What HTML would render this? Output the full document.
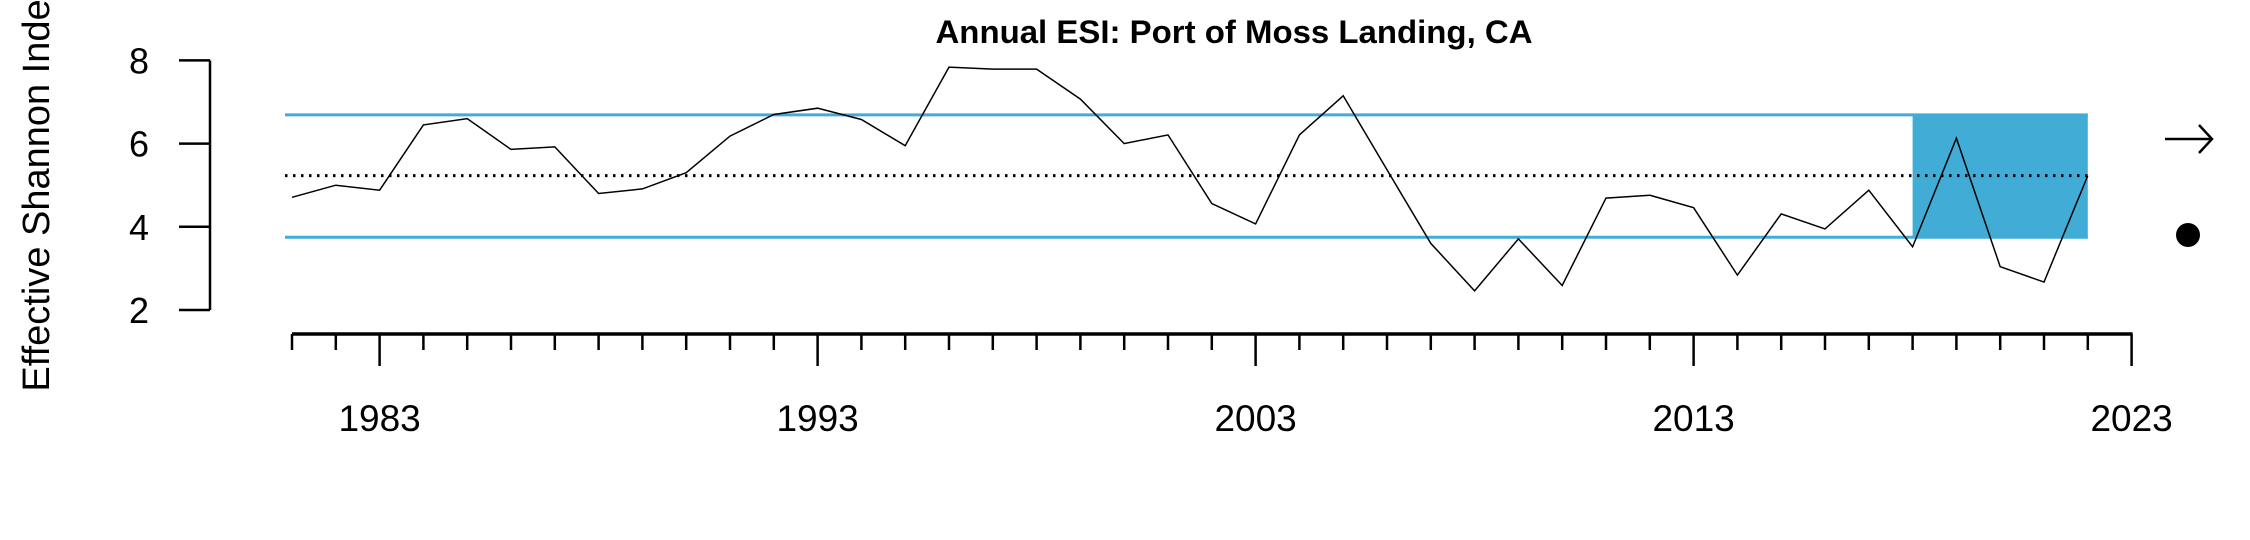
<!DOCTYPE html>
<html><head><meta charset="utf-8"><style>html,body{margin:0;padding:0;background:#fff}svg{display:block}text{font-family:"Liberation Sans",Arial,sans-serif}</style></head>
<body>
<svg id="chart" width="2250" height="540" viewBox="0 0 2250 540" xmlns="http://www.w3.org/2000/svg">
<rect width="2250" height="540" fill="#fff"/>
<text x="1234" y="43" text-anchor="middle" font-size="32" font-weight="bold" textLength="597" lengthAdjust="spacingAndGlyphs">Annual ESI: Port of Moss Landing, CA</text>
<text transform="translate(49,186) rotate(-90)" text-anchor="middle" font-size="38">Effective Shannon Index</text>
<g id="plot"></g>
<g stroke="#000" stroke-width="2.5" fill="none">
<line x1="2165" y1="139" x2="2211" y2="139"/>
<polyline points="2199,125 2212,139 2199,153"/>
</g>
<circle cx="2188" cy="235" r="12" fill="#000"/>
</svg>
<script>
const years = [1981,1982,1983,1984,1985,1986,1987,1988,1989,1990,1991,1992,1993,1994,1995,1996,1997,1998,1999,2000,2001,2002,2003,2004,2005,2006,2007,2008,2009,2010,2011,2012,2013,2014,2015,2016,2017,2018,2019,2020,2021,2022];
const esiValues = [4.71,5.00,4.88,6.45,6.60,5.86,5.92,4.80,4.91,5.30,6.18,6.70,6.85,6.58,5.95,7.84,7.79,7.79,7.07,6.00,6.21,4.56,4.07,6.21,7.15,5.37,3.60,2.46,3.71,2.59,4.69,4.76,4.46,2.84,4.31,3.95,4.88,3.52,6.13,3.04,2.67,5.23];
const yTicks = [2,4,6,8];
const xLabels = [1983,1993,2003,2013,2023];
const meanValue = [5.23];
const bandValues = [3.75, 6.69];
const recentYears = [2018, 2022];

const NS = "http://www.w3.org/2000/svg";
const plot = document.getElementById('plot');
const X = yr => 292 + (yr - 1981) * 43.8;
const Y = v => 310 - (v - 2) * 41.6;
function mk(tag, attrs, parent) {
  const e = document.createElementNS(NS, tag);
  for (const k in attrs) e.setAttribute(k, attrs[k]);
  (parent || plot).appendChild(e);
  return e;
}
let r = mk('rect', {x: X(recentYears[0]), y: Y(bandValues[1]), width: X(recentYears[1]) - X(recentYears[0]), height: Y(bandValues[0]) - Y(bandValues[1]), fill: '#41acd6'});


bandValues.forEach((v, i) => {
  const l = mk('line', {x1: 285, x2: X(2022), y1: Y(v), y2: Y(v), stroke: '#41acd6', 'stroke-width': 3});
  
  
});
const ml = mk('line', {x1: 285, x2: X(2022), y1: Y(meanValue[0]), y2: Y(meanValue[0]), stroke: '#000', 'stroke-width': 3, 'stroke-dasharray': '2.5 5.5'});


const pts = years.map((y, i) => X(y).toFixed(1) + ',' + Y(esiValues[i]).toFixed(1)).join(' ');
const pl = mk('polyline', {points: pts, fill: 'none', stroke: '#000', 'stroke-width': 1.5, 'stroke-linejoin': 'miter'});


const ya = mk('line', {x1: 210, x2: 210, y1: Y(8), y2: Y(2), stroke: '#000', 'stroke-width': 2.5});


yTicks.forEach(t => {
  const tk = mk('line', {x1: 179, x2: 210, y1: Y(t), y2: Y(t), stroke: '#000', 'stroke-width': 2.5});
  
  
  const tx = mk('text', {x: 139, y: Y(t) + 13, 'text-anchor': 'middle', 'font-size': 36});
  tx.textContent = t;
  
  
});
const xa = mk('line', {x1: X(1981), x2: X(2023) + 1, y1: 334, y2: 334, stroke: '#000', 'stroke-width': 3.5});


for (let yr = 1981; yr <= 2023; yr++) {
  const major = xLabels.includes(yr);
  const tk = mk('line', {x1: X(yr), x2: X(yr), y1: 334, y2: major ? 366 : 350, stroke: '#000', 'stroke-width': 2.5});
  
  
}
xLabels.forEach(yr => {
  const tx = mk('text', {x: X(yr), y: 431, 'text-anchor': 'middle', 'font-size': 37});
  tx.textContent = yr;
  
  
});
</script>
</body></html>
